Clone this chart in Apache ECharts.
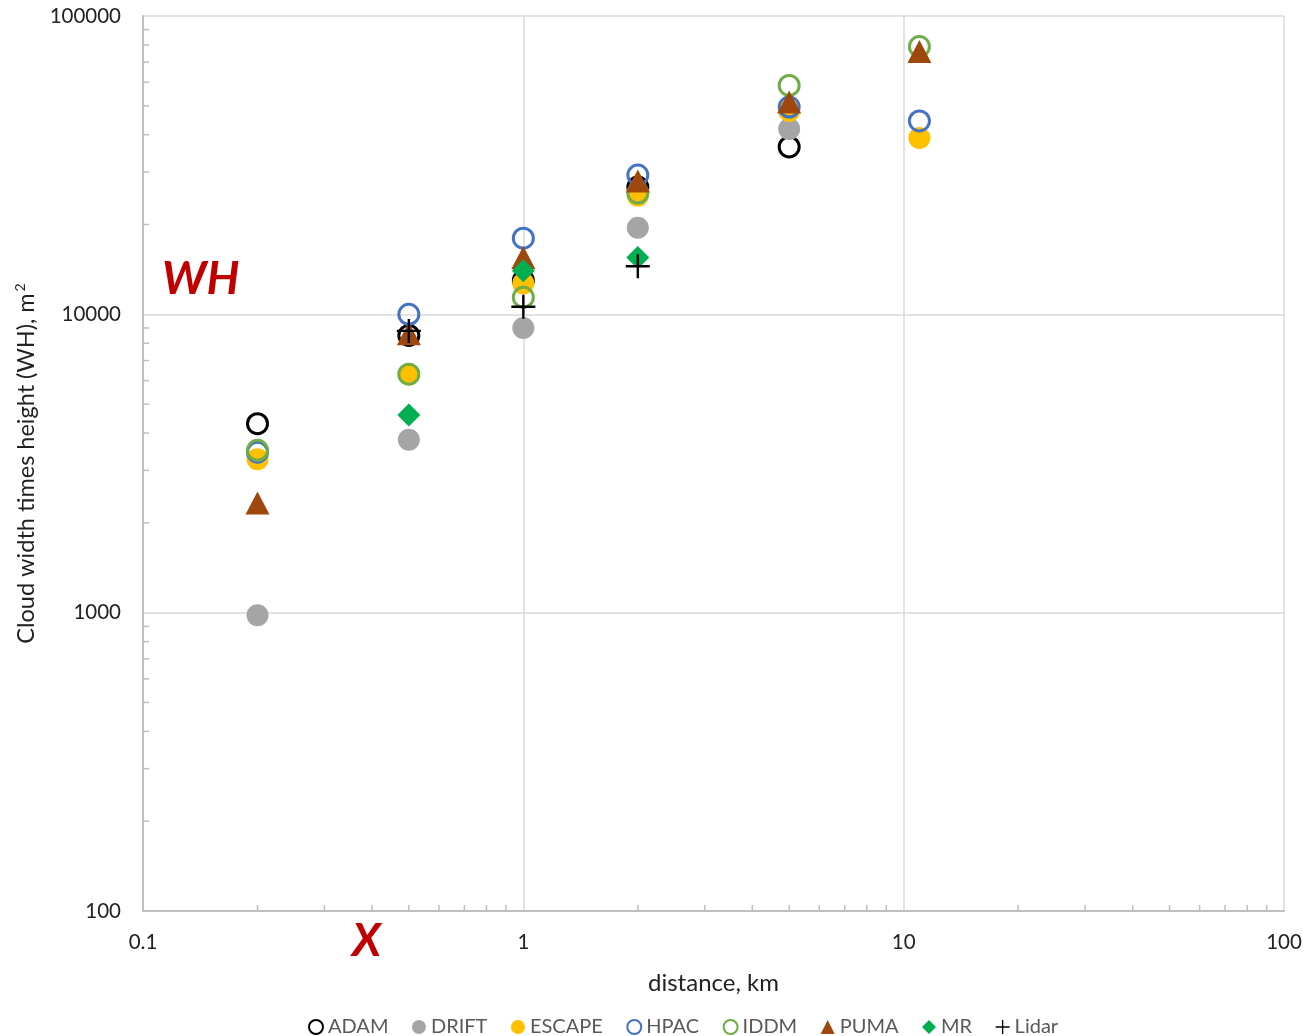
<!DOCTYPE html>
<html>
<head>
<meta charset="utf-8">
<script src="https://cdn.jsdelivr.net/npm/echarts@6/dist/echarts.min.js"></script>
<style>
  html, body { margin: 0; padding: 0; background: #fff; }
  #chart { width: 1313px; height: 1036px; }
</style>
</head>
<body>
<div id="chart"></div>
<script>
// Downwind distance (km) and cloud width x height (m^2) per model
const distances = [0.2, 0.5, 1, 2, 5, 11];
const adam   = [4300, 8500, 13000, 26700, 36400, null];
const drift  = [980, 3800, 9000, 19500, 41800, null];
const escape = [3270, 6300, 12700, 25000, 48000, 39000];
const hpac   = [3450, 10000, 18000, 29300, 49500, 44500];
const iddm   = [3500, 6300, 11400, 25500, 58500, 79000];
const puma   = [2330, 8600, 15500, 28000, 51500, 76000];
const mr     = [null, 4600, 14000, 15500, null, null];
const lidar  = [null, 8800, 10600, 14500, null, null];

const xTicks = [0.1, 1, 10, 100];
const yTicks = [100, 1000, 10000, 100000];

const FONT = 'Lato, "Open Sans", sans-serif';
const PLUS = 'path://M9,0 L11,0 L11,9 L20,9 L20,11 L11,11 L11,20 L9,20 L9,11 L0,11 L0,9 L9,9 Z';

function pairs(vals) {
  const out = [];
  vals.forEach((v, i) => { if (v != null) out.push([distances[i], v]); });
  return out;
}

function hollow(name, vals, color) {
  return {
    name, type: 'scatter', data: pairs(vals),
    symbol: 'circle', symbolSize: 20,
    itemStyle: { color: 'rgba(255,255,255,0)', borderColor: color, borderWidth: 3, opacity: 1 },
    emphasis: { disabled: true }
  };
}
function filled(name, vals, color, symbol, size) {
  return {
    name, type: 'scatter', data: pairs(vals),
    symbol, symbolSize: size,
    itemStyle: { color, opacity: 1 },
    emphasis: { disabled: true }
  };
}

const chart = echarts.init(document.getElementById('chart'), null, { renderer: 'canvas' });

const series = [
  hollow('ADAM', adam, '#000000'),
  filled('DRIFT', drift, '#A5A5A5', 'circle', 22),
  filled('ESCAPE', escape, '#FFC000', 'circle', 22),
  hollow('HPAC', hpac, '#4472C4'),
  hollow('IDDM', iddm, '#70AD47'),
  filled('PUMA', puma, '#9E480E', 'triangle', [24, 23]),
  filled('MR', mr, '#00B050', 'diamond', [23, 23]),
  filled('Lidar', lidar, '#000000', PLUS, 24)
];

const tickFmt = ticks => v => {
  const r = ticks.find(t => Math.abs(t - v) / t < 1e-6);
  return r == null ? '' : String(r);
};

chart.setOption({
  animation: false,
  backgroundColor: '#fff',
  textStyle: { fontFamily: FONT },
  grid: { left: 143, top: 16, right: 29, bottom: 125, containLabel: false },
  xAxis: {
    type: 'log', logBase: 10, min: xTicks[0], max: xTicks[xTicks.length - 1],
    name: 'distance, km', nameLocation: 'middle', nameGap: 60,
    nameTextStyle: { fontSize: 24, color: '#222', fontFamily: FONT },
    axisLine: { show: true, lineStyle: { color: '#BFBFBF', width: 2 } },
    axisTick: { show: false },
    splitLine: { show: true, lineStyle: { color: '#D9D9D9', width: 1.5 } },
    axisLabel: { fontSize: 20.5, color: '#222', margin: 21, fontFamily: FONT, formatter: tickFmt(xTicks) }
  },
  yAxis: {
    type: 'log', logBase: 10, min: yTicks[0], max: yTicks[yTicks.length - 1],
    name: '{a|Cloud width times height (WH), m}{s|2}', nameLocation: 'middle', nameGap: 104,
    nameTextStyle: {
      fontFamily: FONT,
      rich: {
        a: { fontSize: 23.5, color: '#222', fontFamily: FONT },
        s: { fontSize: 14, color: '#222', fontFamily: FONT, verticalAlign: 'top', padding: [0, 0, 12, 2] }
      }
    },
    axisLine: { show: true, lineStyle: { color: '#BFBFBF', width: 2 } },
    axisTick: { show: false },
    splitLine: { show: true, lineStyle: { color: '#D9D9D9', width: 1.5 } },
    axisLabel: { fontSize: 20.5, color: '#222', margin: 22, fontFamily: FONT, formatter: tickFmt(yTicks) }
  },
  legend: {
    top: 1012, left: 303, itemGap: 23.5, itemWidth: 14, itemHeight: 14,
    textStyle: { fontSize: 20, color: '#595959', fontFamily: FONT, padding: [0, 0, 0, 0] },
    data: series.map(s => s.name)
  },
  series
});

// Minor log ticks (2..9 within each decade) drawn inward from both axes, plus the red tags
function decorate() {
  const els = [];
  const origin = chart.convertToPixel({ gridIndex: 0 }, [xTicks[0], yTicks[0]]);
  for (let d = 0; d < xTicks.length - 1; d++) {
    for (let k = 2; k <= 9; k++) {
      const p = chart.convertToPixel({ gridIndex: 0 }, [xTicks[d] * k, yTicks[0]]);
      els.push({ type: 'line', shape: { x1: p[0], y1: origin[1], x2: p[0], y2: origin[1] - 6 },
        style: { stroke: '#BFBFBF', lineWidth: 1.5 }, silent: true });
    }
  }
  for (let d = 0; d < yTicks.length - 1; d++) {
    for (let k = 2; k <= 9; k++) {
      const p = chart.convertToPixel({ gridIndex: 0 }, [xTicks[0], yTicks[d] * k]);
      els.push({ type: 'line', shape: { x1: origin[0], y1: p[1], x2: origin[0] + 6, y2: p[1] },
        style: { stroke: '#BFBFBF', lineWidth: 1.5 }, silent: true });
    }
  }
  els.push({ type: 'text', left: 162, top: 256,
    style: { text: 'WH', fill: '#C00000', font: 'italic bold 46px ' + FONT } });
  els.push({ type: 'text', left: 352, top: 918,
    style: { text: 'X', fill: '#C00000', font: 'italic bold 46px ' + FONT } });
  chart.setOption({ graphic: { elements: els } });
}
decorate();
</script>
</body>
</html>
